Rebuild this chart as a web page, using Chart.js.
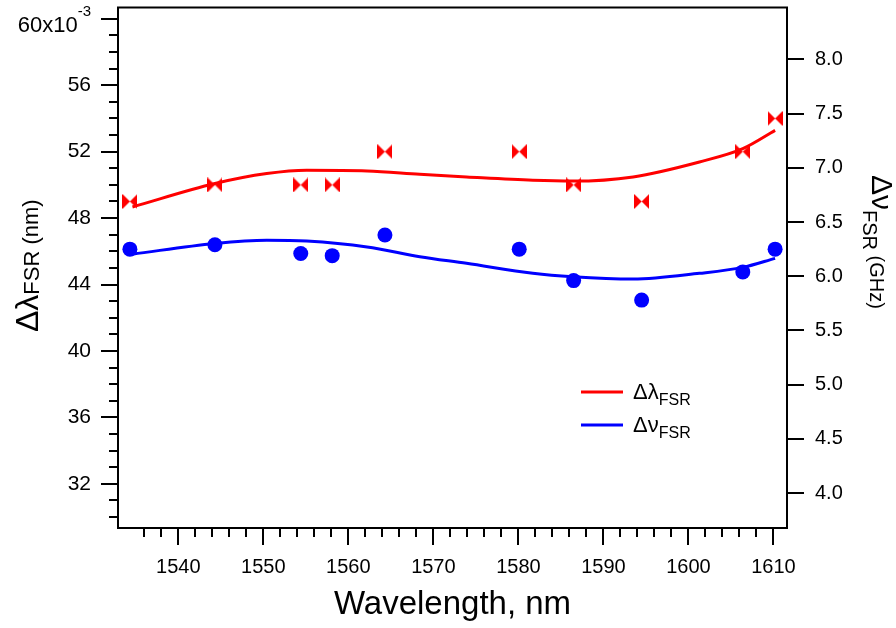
<!DOCTYPE html>
<html>
<head>
<meta charset="utf-8">
<script src="https://cdn.jsdelivr.net/npm/chart.js@4/dist/chart.umd.min.js"></script>
<style>
  html,body{margin:0;padding:0;background:#fff}
  #wrap{width:896px;height:628px;position:relative}
</style>
</head>
<body>
<div id="wrap"><canvas id="c" width="896" height="628"></canvas></div>
<script>
// measured resonances: wavelength (nm)
const lamPts = [1534.3, 1544.3, 1554.4, 1558.1, 1564.3, 1580.1, 1586.5, 1594.5, 1606.4, 1610.2];
// Δλ_FSR in units of 1e-3 nm (left axis)
const dLam = [49, 50, 50, 50, 52, 52, 50, 49, 52, 54];
// Δν_FSR in GHz (right axis)
const dNu = [6.25, 6.29, 6.21, 6.19, 6.38, 6.25, 5.96, 5.78, 6.04, 6.25];

// fit curves
const fitX   = [1534.6, 1544.3, 1550.4, 1555.1, 1562.2, 1568.4, 1573.9, 1581.7, 1586.4, 1593.5, 1601.3, 1606.4, 1610.2];
const fitLam = [48.67, 50.08, 50.68, 50.88, 50.84, 50.64, 50.48, 50.28, 50.23, 50.48, 51.38, 52.18, 53.28];
const fitNu  = [6.204, 6.303, 6.333, 6.325, 6.27, 6.180, 6.119, 6.027, 5.995, 5.974, 6.027, 6.082, 6.165];

const FONT = '"Liberation Sans", Arial, sans-serif';
const RED = '#ff0000', BLUE = '#0000ff';

// bowtie marker
const bow = document.createElement('canvas');
bow.width = 15; bow.height = 15;
(function(){
  const g = bow.getContext('2d');
  g.fillStyle = RED;
  g.beginPath(); g.moveTo(0,0); g.lineTo(7.5,7.5); g.lineTo(0,15); g.closePath(); g.fill();
  g.beginPath(); g.moveTo(15,0); g.lineTo(7.5,7.5); g.lineTo(15,15); g.closePath(); g.fill();
})();

function rich(ctx, parts, x, y, ang){
  ctx.save();
  ctx.translate(x, y); ctx.rotate(ang || 0);
  ctx.textBaseline = 'alphabetic'; ctx.textAlign = 'left'; ctx.fillStyle = '#000';
  let cx = 0;
  for (const p of parts){
    ctx.font = p.size + 'px ' + FONT;
    ctx.fillText(p.t, cx, p.dy || 0);
    cx += ctx.measureText(p.t).width;
  }
  ctx.restore();
}

const extras = {
  id: 'extras',
  afterDraw(chart){
    const ctx = chart.ctx, a = chart.chartArea;
    const sx = chart.scales.x, sl = chart.scales.yL;
    ctx.save();
    ctx.strokeStyle = '#000'; ctx.lineWidth = 2;
    // top frame line
    ctx.beginPath(); ctx.moveTo(a.left - 1, a.top); ctx.lineTo(a.right + 1, a.top); ctx.stroke();
    // minor ticks
    ctx.beginPath();
    for (let v = 30; v <= 60; v++){
      if (v % 4 === 0) continue;
      const y = Math.round(sl.getPixelForValue(v));
      ctx.moveTo(a.left, y); ctx.lineTo(a.left - 9, y);
    }
    for (let v = 1536; v <= 1610; v += 2){
      if (v % 10 === 0) continue;
      const x = Math.round(sx.getPixelForValue(v));
      ctx.moveTo(x, a.bottom); ctx.lineTo(x, a.bottom + 9);
    }
    ctx.stroke();
    // top left tick label with exponent
    const y60 = sl.getPixelForValue(60);
    ctx.fillStyle = '#000';
    ctx.font = '15px ' + FONT; ctx.textBaseline = 'alphabetic'; ctx.textAlign = 'right';
    ctx.fillText('-3', 91, y60 - 3);
    const wExp = ctx.measureText('-3').width;
    ctx.font = '22px ' + FONT;
    ctx.fillText('60x10', 91 - wExp, y60 + 13);
    // axis titles
    rich(ctx, [{t:'Δλ', size:32}, {t:'FSR', size:22, dy:1}, {t:' (nm)', size:22}], 38, 332, -Math.PI/2);
    rich(ctx, [{t:'Δν', size:30}, {t:'FSR', size:20, dy:9}, {t:' (GHz)', size:20, dy:2}], 872, 175, Math.PI/2);
    ctx.font = '33px ' + FONT; ctx.textAlign = 'center';
    ctx.fillText('Wavelength, nm', (a.left + a.right) / 2, 614);
    // legend
    ctx.lineWidth = 3;
    ctx.strokeStyle = RED; ctx.beginPath(); ctx.moveTo(581, 392); ctx.lineTo(623, 392); ctx.stroke();
    ctx.strokeStyle = BLUE; ctx.beginPath(); ctx.moveTo(581, 425); ctx.lineTo(623, 425); ctx.stroke();
    rich(ctx, [{t:'Δλ', size:22}, {t:'FSR', size:16, dy:6}], 633, 399);
    rich(ctx, [{t:'Δν', size:22}, {t:'FSR', size:16, dy:6}], 633, 432);
    ctx.restore();
  }
};

const tickFont = { family: FONT, size: 20 };
const gridOpt = { drawOnChartArea: false, drawTicks: true, tickLength: 17, color: '#000', lineWidth: 2 };
const borderOpt = { display: true, color: '#000', width: 2 };
const noPadV = s => { s.paddingTop = 0; s.paddingBottom = 0; };

new Chart(document.getElementById('c').getContext('2d'), {
  data: {
    datasets: [
      { type: 'line', label: 'fit Δλ', yAxisID: 'yL',
        data: fitX.map((x, i) => ({ x, y: fitLam[i] })),
        borderColor: RED, borderWidth: 3, pointRadius: 0, tension: 0.4, cubicInterpolationMode: 'monotone', fill: false },
      { type: 'line', label: 'fit Δν', yAxisID: 'yR',
        data: fitX.map((x, i) => ({ x, y: fitNu[i] })),
        borderColor: BLUE, borderWidth: 3, pointRadius: 0, tension: 0.4, cubicInterpolationMode: 'monotone', fill: false },
      { type: 'scatter', label: 'Δλ', yAxisID: 'yL',
        data: lamPts.map((x, i) => ({ x, y: dLam[i] })),
        pointStyle: bow, pointRadius: 7.5, backgroundColor: RED, borderWidth: 0 },
      { type: 'scatter', label: 'Δν', yAxisID: 'yR',
        data: lamPts.map((x, i) => ({ x, y: dNu[i] })),
        pointStyle: 'circle', pointRadius: 7.5, backgroundColor: BLUE, borderColor: BLUE, borderWidth: 0 }
    ]
  },
  options: {
    responsive: false, animation: false, devicePixelRatio: 1,
    layout: { padding: { top: 7, left: 0, right: 0, bottom: 0 } },
    plugins: { legend: { display: false }, tooltip: { enabled: false } },
    scales: {
      x: { type: 'linear', position: 'bottom', min: 1532.9, max: 1611.6,
        ticks: { stepSize: 10, includeBounds: false, font: tickFont, color: '#000', padding: 10, maxRotation: 0,
          callback: v => String(v) },
        grid: gridOpt, border: borderOpt,
        afterFit: s => { s.height = 100; s.paddingLeft = 0; s.paddingRight = 0; } },
      yL: { type: 'linear', position: 'left', min: 29.34, max: 60.68,
        ticks: { stepSize: 4, includeBounds: false, font: { family: FONT, size: 21 }, color: '#000', padding: 10,
          callback: v => v === 60 ? '' : String(v) },
        grid: gridOpt, border: borderOpt,
        afterFit: s => { s.width = 118; noPadV(s); } },
      yR: { type: 'linear', position: 'right', min: 3.678, max: 8.479,
        ticks: { stepSize: 0.5, includeBounds: false, font: tickFont, color: '#000', padding: 11,
          callback: v => v.toFixed(1) },
        grid: gridOpt, border: borderOpt,
        afterFit: s => { s.width = 109; noPadV(s); } }
    }
  },
  plugins: [extras]
});
</script>
</body>
</html>
